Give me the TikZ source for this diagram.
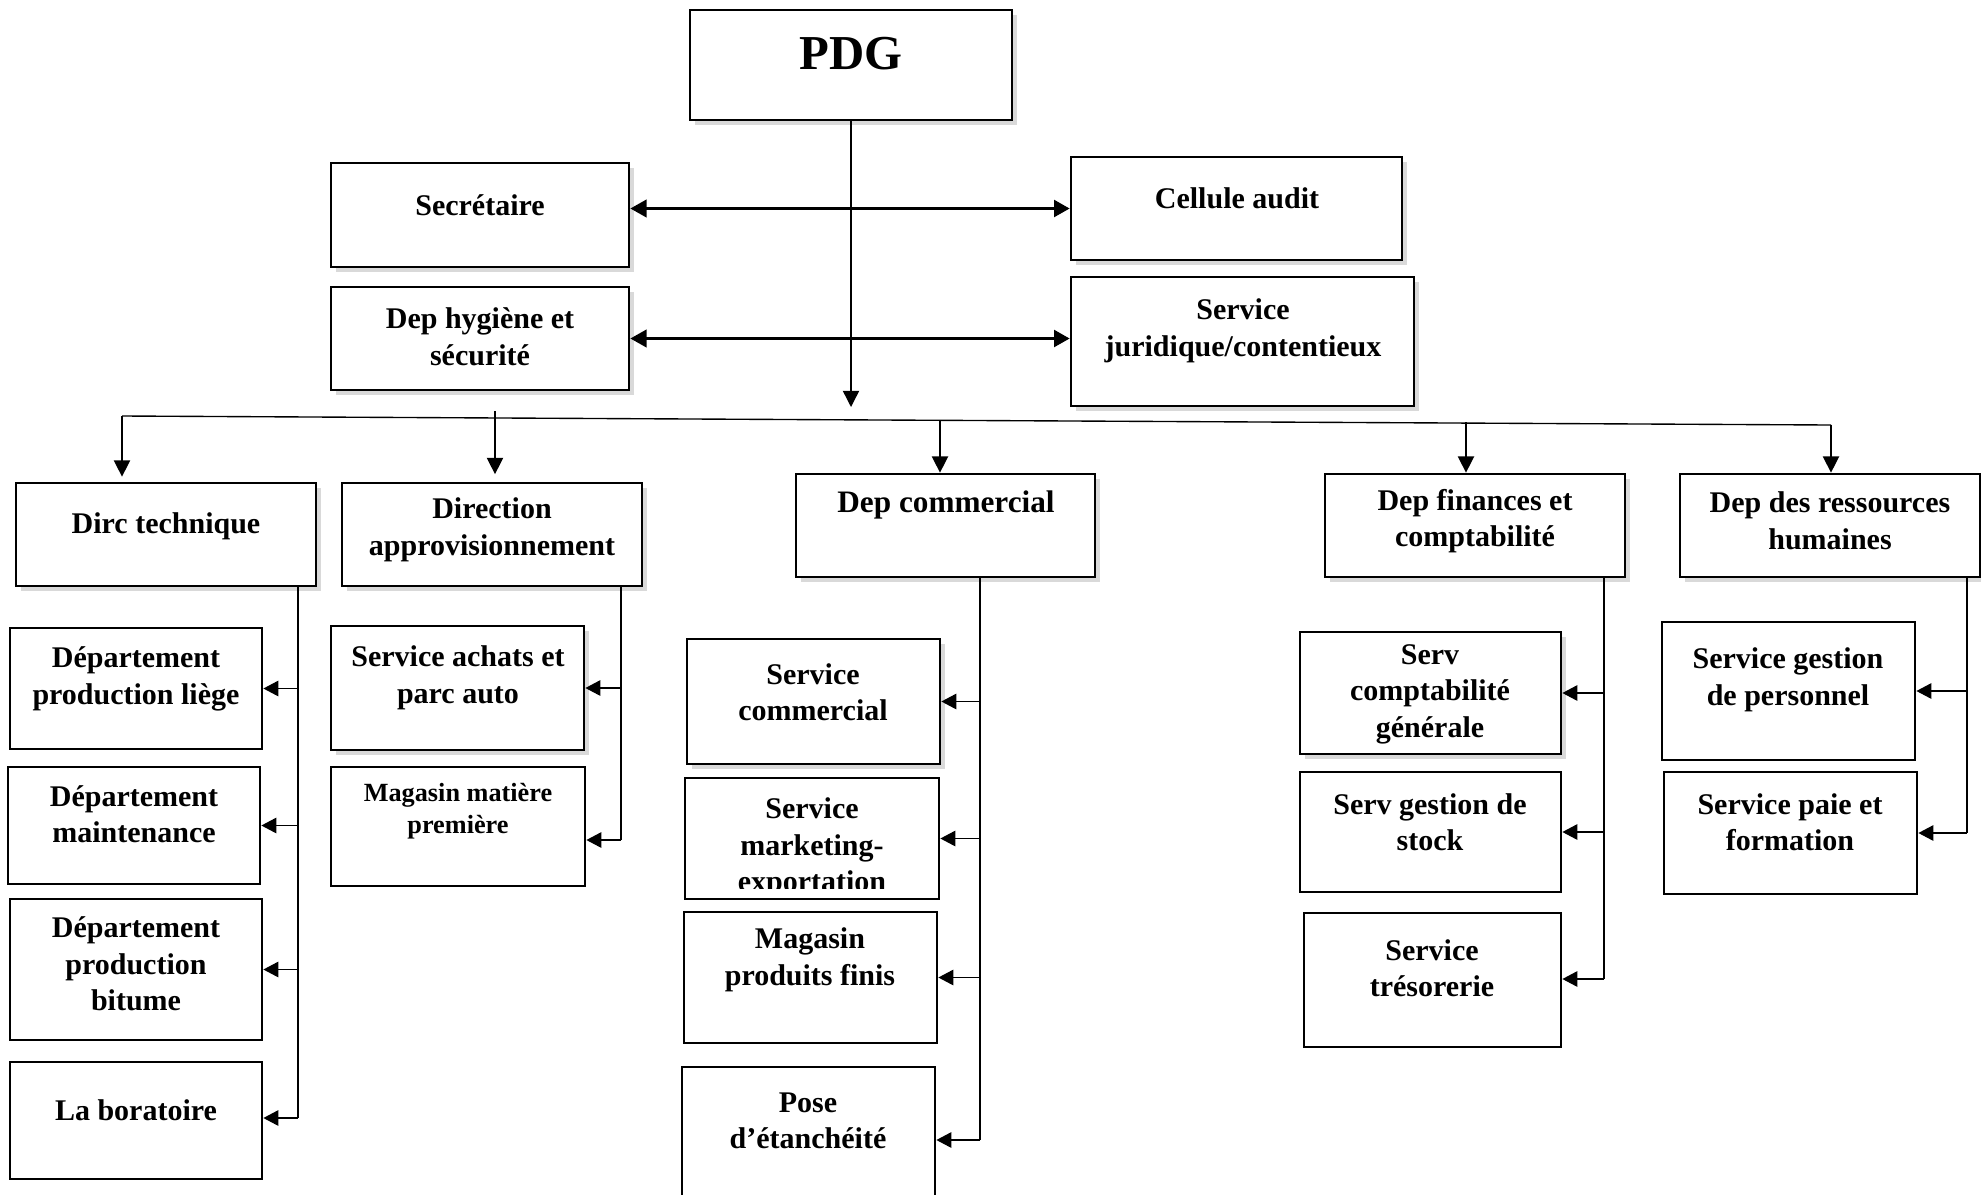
\documentclass[tikz,border=0pt]{standalone}
\usepackage{fontspec}
\setmainfont{Liberation Serif}
\usetikzlibrary{arrows.meta,positioning,fit,shadows}
\tikzset{
  box/.style={draw=black, line width=1.1pt, fill=white, inner sep=0pt},
  shbox/.style={box, drop shadow={shadow xshift=2pt, shadow yshift=-2pt, opacity=.3}},
  lbl/.style={font=\bfseries\fontsize{12}{14.6}\selectfont, align=center, inner sep=0pt},
  lblsmall/.style={lbl, font=\bfseries\fontsize{10.5}{13}\selectfont},
  tree/.style={line width=.55pt},
  arr/.style={tree, -{Triangle[length=6pt,width=6.2pt]}},
  darr/.style={line width=1.1pt, {Triangle[length=6.5pt,width=7pt]}-{Triangle[length=6.2pt,width=6.7pt]}},
  down/.style={tree, -{Triangle[length=6.5pt,width=6.5pt]}}
}
\begin{document}
\begin{tikzpicture}[x=.4pt,y=-.4pt]
\useasboundingbox (0,0) rectangle (1981,1194);
% direction generale
\node[shbox, fit={(690,10) (1012,120)}] (pdg) {};
\node[lbl, font=\bfseries\fontsize{19.5}{22}\selectfont] (pdg-t) at (851,54) {PDG};
\node[shbox, fit={(331,163) (629,267)}] (sec) {};
\node[lbl] (sec-t) at (480,205) {Secrétaire};
\node[shbox, fit={(331,287) (629,390)}] (hyg) {};
\node[lbl] (hyg-t) at (480,337) {Dep hygiène et\\sécurité};
\node[shbox, fit={(1071,157) (1402,260)}] (aud) {};
\node[lbl] (aud-t) at (1237,198) {Cellule audit};
\node[shbox, fit={(1071,277) (1414,406)}] (jur) {};
\node[lbl] (jur-t) at (1243,331) {Service\\juridique/contentieux};
% directions
\node[shbox, fit={(16,483) (316,586)}] (tech) {};
\node[lbl] (tech-t) at (166,526) {Dirc technique};
\node[shbox, fit={(342,483) (642,586)}] (appro) {};
\node[lbl] (appro-t) at (492,530) {Direction\\approvisionnement};
\node[shbox, fit={(796,474) (1095,577)}] (com) {};
\node[lbl, font=\bfseries\fontsize{12.5}{15}\selectfont] (com-t) at (946,505) {Dep commercial};
\node[shbox, fit={(1325,474) (1625,577)}] (fin) {};
\node[lbl] (fin-t) at (1475,521) {Dep finances et\\comptabilité};
\node[shbox, fit={(1680,474) (1980,577)}] (rh) {};
\node[lbl] (rh-t) at (1830,521) {Dep des ressources\\humaines};
% technique
\node[box, fit={(10,628) (262,749)}] (liege) {};
\node[lbl] (liege-t) at (136,679) {Département\\production liège};
\node[box, fit={(8,767) (260,884)}] (maint) {};
\node[lbl] (maint-t) at (134,814) {Département\\maintenance};
\node[box, fit={(10,899) (262,1040)}] (bitume) {};
\node[lbl] (bitume-t) at (136,964) {Département\\production\\bitume};
\node[box, fit={(10,1062) (262,1179)}] (lab) {};
\node[lbl] (lab-t) at (136,1110) {La boratoire};
% approvisionnement
\node[shbox, fit={(331,626) (584,750)}] (achats) {};
\node[lbl] (achats-t) at (458,678) {Service achats et\\parc auto};
\node[box, fit={(331,767) (585,886)}] (magmp) {};
\node[lblsmall] (magmp-t) at (458,811) {Magasin matière\\première};
% commercial
\node[shbox, fit={(687,639) (940,764)}] (scom) {};
\node[lbl] (scom-t) at (813,692) {Service\\commercial};
\node[box, fit={(685,778) (939,899)}] (mkt) {};
\begin{scope}
\clip (mkt.north west) rectangle ([yshift=4.8pt]mkt.south east);
\node[lbl] (mkt-t) at (812,848) {Service\\marketing-\\exportation};
\end{scope}
\node[box, fit={(684,912) (937,1043)}] (mpf) {};
\node[lbl] (mpf-t) at (810,960) {Magasin\\produits finis};
\node[box, fit={(682,1067) (935,1215)}] (pose) {};
\node[lbl] (pose-t) at (808,1121) {Pose\\d’étanchéité};
% finances
\node[shbox, fit={(1300,632) (1561,754)}] (cpt) {};
\node[lbl] (cpt-t) at (1430,694) {Serv\\comptabilité\\générale};
\node[box, fit={(1300,772) (1561,892)}] (stock) {};
\node[lbl] (stock-t) at (1430,822) {Serv gestion de\\stock};
\node[box, fit={(1304,913) (1561,1047)}] (treso) {};
\node[lbl] (treso-t) at (1432,968) {Service\\trésorerie};
% ressources humaines
\node[box, fit={(1662,622) (1915,760)}] (gper) {};
\node[lbl] (gper-t) at (1788,680) {Service gestion\\de personnel};
\node[box, fit={(1664,772) (1917,894)}] (paie) {};
\node[lbl] (paie-t) at (1790,822) {Service paie et\\formation};

% liaisons du PDG
\coordinate (hub) at (851,407);
\draw[down] (pdg.south) -- (hub);
\draw[darr] (sec.east |- aud.west) -- (aud.west);
\draw[darr] (hyg.east) -- (hyg.east -| jur.west);

% barre des directions
\coordinate (busL) at (122,416);
\coordinate (busR) at (1831,425);
\coordinate (b2) at (495,411);
\coordinate (b3) at (940,420);
\coordinate (b4) at (1466,422);
\draw[tree] (busL) -- (busR);
\draw[down, shorten >=2pt] (busL) -- (busL |- tech.north);
\draw[down, shorten >=3pt] (b2) -- (b2 |- appro.north);
\draw[down] (b3) -- (b3 |- com.north);
\draw[down] (b4) -- (b4 |- fin.north);
\draw[down] (busR) -- (busR |- rh.north);

% sous-services
\coordinate (tk) at (298,1118);
\draw[tree] (tech.south -| tk) -- (tk);
\draw[arr] (tk) -- (tk -| lab.east);
\foreach \n in {liege,maint,bitume}{\draw[arr] (tk |- \n.east) -- (\n.east);}

\coordinate (ak) at (621,840);
\draw[tree] (appro.south -| ak) -- (ak);
\draw[arr] (ak) -- (ak -| magmp.east);
\draw[arr] (ak |- achats.east) -- (achats.east);

\coordinate (ck) at (980,1140);
\draw[tree] (com.south -| ck) -- (ck);
\draw[arr] (ck) -- (ck -| pose.east);
\foreach \n in {scom,mkt,mpf}{\draw[arr] (ck |- \n.east) -- (\n.east);}

\coordinate (fk) at (1604,979);
\draw[tree] (fin.south -| fk) -- (fk);
\draw[arr] (fk) -- (fk -| treso.east);
\foreach \n in {cpt,stock}{\draw[arr] (fk |- \n.east) -- (\n.east);}

\coordinate (rk) at (1967,833);
\draw[tree] (rh.south -| rk) -- (rk);
\draw[arr] (rk) -- (rk -| paie.east);
\draw[arr] (rk |- gper.east) -- (gper.east);
\end{tikzpicture}
\end{document}
